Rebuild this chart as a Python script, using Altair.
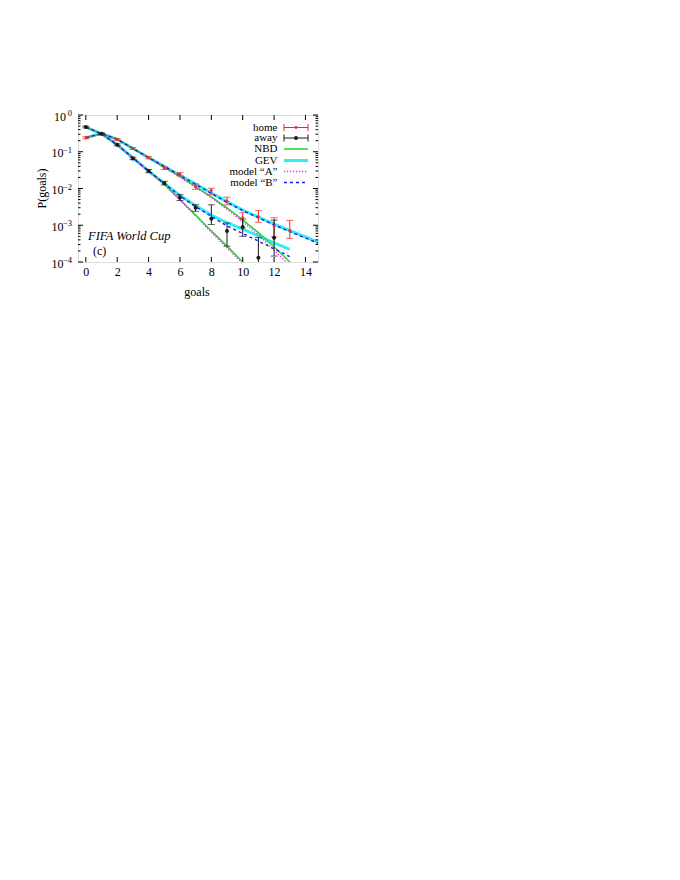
import altair as alt
import pandas as pd

# ---------------- data ----------------
home_x = list(range(14))
home_p = [0.24, 0.30, 0.216, 0.123, 0.069, 0.036, 0.0245, 0.0113, 0.0089, 0.0045, 0.0016, 0.0017, 0.00094, 0.00072]
home_lo = [0.225, 0.285, 0.205, 0.115, 0.064, 0.033, 0.0220, 0.0095, 0.0068, 0.0036, 0.00085, 0.0012, 0.00048, 0.00044]
home_hi = [0.255, 0.318, 0.228, 0.131, 0.074, 0.039, 0.0272, 0.0133, 0.0102, 0.0058, 0.0022, 0.0025, 0.0016, 0.00135]

away_x = list(range(13))
away_p = [0.47, 0.31, 0.155, 0.066, 0.030, 0.014, 0.0057, 0.0030, 0.0015, 0.0007, 0.0009, 0.00013, 0.00046]
away_lo = [0.445, 0.295, 0.146, 0.061, 0.027, 0.0125, 0.0047, 0.0024, 0.00105, 0.00027, 0.0005, 0.00005, 0.000145]
away_hi = [0.495, 0.325, 0.164, 0.071, 0.033, 0.0157, 0.0068, 0.0036, 0.0036, 0.00115, 0.00148, 0.00046, 0.00138]

curve_x_home = list(range(16))
home_gev = [0.24, 0.316, 0.219, 0.123, 0.069, 0.040, 0.023, 0.0132, 0.0076, 0.0044, 0.0026, 0.00166, 0.00107, 0.00071, 0.00048, 0.00032]
home_b = [0.24, 0.314, 0.219, 0.123, 0.069, 0.040, 0.0228, 0.0130, 0.0074, 0.0042, 0.0025, 0.0016, 0.00102, 0.00067, 0.00045, 0.00030]
home_nbd = [0.24, 0.309, 0.219, 0.123, 0.069, 0.038, 0.021, 0.0112, 0.0059, 0.00295, 0.00141, 0.00063, 0.00026, 0.0001, 0.000037, 0.000013]
home_a = [0.24, 0.305, 0.219, 0.124, 0.069, 0.038, 0.0205, 0.0108, 0.0056, 0.0027, 0.00125, 0.00054, 0.00021, 0.00008, 0.00003, 0.00001]

curve_x_away = list(range(14))
away_gev = [0.468, 0.309, 0.155, 0.068, 0.030, 0.0138, 0.0065, 0.0034, 0.0019, 0.00117, 0.00078, 0.00051, 0.00033, 0.00022]
away_b = [0.468, 0.309, 0.155, 0.068, 0.030, 0.0137, 0.0063, 0.0032, 0.00175, 0.00095, 0.0006, 0.00037, 0.00023, 0.00014]
away_nbd = [0.468, 0.309, 0.155, 0.068, 0.0295, 0.0132, 0.0050, 0.0019, 0.0007, 0.00027, 0.0001, 0.00004, 0.000015, 0.000005]
away_a = [0.468, 0.309, 0.155, 0.068, 0.0295, 0.0130, 0.0048, 0.0018, 0.00064, 0.00024, 0.00009, 0.00003, 0.00001, 0.000004]

x_tick_values = [0, 2, 4, 6, 8, 10, 12, 14]
y_major = [1.0, 0.1, 0.01, 0.001, 0.0001]
y_exponents = ["0", "\u22121", "\u22122", "\u22123", "\u22124"]
y_minor = [m * d for d in [1e-4, 1e-3, 1e-2, 1e-1] for m in range(2, 10)]

legend_labels = ["home", "away", "NBD", "GEV", "model \u201cA\u201d", "model \u201cB\u201d"]

# ---------------- frames ----------------
W, H = 240, 147
FONT = "Liberation Serif"

home_df = pd.DataFrame({"x": home_x, "p": home_p, "lo": home_lo, "hi": home_hi})
away_df = pd.DataFrame({"x": away_x, "p": away_p, "lo": away_lo, "hi": away_hi})

rows = []
for name, xs_, vals in [("GEV", curve_x_home, home_gev), ("B", curve_x_home, home_b),
                        ("NBD", curve_x_home, home_nbd), ("A", curve_x_home, home_a)]:
    for xv, pv in zip(xs_, vals):
        rows.append({"x": xv, "p": pv, "model": name, "team": "home"})
for name, xs_, vals in [("GEV", curve_x_away, away_gev), ("B", curve_x_away, away_b),
                        ("NBD", curve_x_away, away_nbd), ("A", curve_x_away, away_a)]:
    for xv, pv in zip(xs_, vals):
        rows.append({"x": xv, "p": pv, "model": name, "team": "away"})
curves = pd.DataFrame(rows)

xscale = alt.Scale(domain=[-0.5, 14.8], nice=False, zero=False)
yscale = alt.Scale(type="log", domain=[1e-4, 1], nice=False)
xaxis = alt.Axis(values=x_tick_values, ticks=False, domain=False, grid=False, title=None,
                 labelFont=FONT, labelFontSize=12, labelColor="black", labelPadding=4)

def X(field="x"):
    return alt.X(f"{field}:Q", scale=xscale, axis=xaxis)

def Y(field="p"):
    return alt.Y(f"{field}:Q", scale=yscale, axis=None)

def curve_layer(name, color, width, dash=None):
    kw = dict(color=color, strokeWidth=width, clip=True)
    if dash:
        kw["strokeDash"] = dash
    return alt.Chart(curves[curves.model == name]).mark_line(**kw).encode(
        x=X(), y=Y(), detail="team:N")

CYAN, GREEN, MAG, BLUE = "#30eef4", "#30d630", "#f020f0", "#1a1af0"
RED, BLACK = "#f02828", "#1a1a1a"
DOT, DASH = [1.2, 1.8], [3, 3]

layers = []
# curves
layers.append(curve_layer("GEV", CYAN, 3))
layers.append(curve_layer("NBD", GREEN, 1.6))
layers.append(curve_layer("A", MAG, 1.4, DOT))
layers.append(curve_layer("B", BLUE, 1.4, DASH))

# error bars
for df, col in [(home_df, RED), (away_df, BLACK)]:
    base = alt.Chart(df)
    layers.append(base.mark_rule(color=col, strokeWidth=1, clip=True).encode(x=X(), y=Y("lo"), y2="hi:Q"))
    layers.append(base.mark_tick(color=col, orient="horizontal", size=7, thickness=1, clip=True).encode(x=X(), y=Y("lo")))
    layers.append(base.mark_tick(color=col, orient="horizontal", size=7, thickness=1, clip=True).encode(x=X(), y=Y("hi")))
layers.append(alt.Chart(home_df).mark_circle(color=RED, size=8, opacity=1).encode(x=X(), y=Y()))
layers.append(alt.Chart(away_df).mark_circle(color=BLACK, size=16, opacity=1).encode(x=X(), y=Y()))

# inward ticks on all four sides
xt = pd.DataFrame({"x": x_tick_values})
layers.append(alt.Chart(xt).mark_rule(color="black", strokeWidth=1).encode(x=X(), y=alt.value(H), y2=alt.value(H - 5)))
layers.append(alt.Chart(xt).mark_rule(color="black", strokeWidth=1).encode(x=X(), y=alt.value(0), y2=alt.value(5)))
ymaj = pd.DataFrame({"p": y_major, "e": y_exponents})
ymin = pd.DataFrame({"p": y_minor})
for df, L in [(ymaj, 5), (ymin, 2.5)]:
    layers.append(alt.Chart(df).mark_rule(color="black", strokeWidth=1).encode(y=Y(), x=alt.value(0), x2=alt.value(L)))
    layers.append(alt.Chart(df).mark_rule(color="black", strokeWidth=1).encode(y=Y(), x=alt.value(W - L), x2=alt.value(W)))

# y tick labels 10^k
layers.append(alt.Chart(ymaj.iloc[:1]).mark_text(font=FONT, fontSize=12, align="right", baseline="middle", dy=1.5).encode(
    y=Y(), x=alt.value(-12), text=alt.value("10")))
layers.append(alt.Chart(ymaj.iloc[1:]).mark_text(font=FONT, fontSize=12, align="right", baseline="middle", dy=1.5).encode(
    y=Y(), x=alt.value(-14.5), text=alt.value("10")))
layers.append(alt.Chart(ymaj).mark_text(font=FONT, fontSize=8.5, align="right", baseline="middle", dy=-2).encode(
    y=Y(), x=alt.value(-6), text="e:N"))

# titles and annotations
one = pd.DataFrame({"a": [0]})
def txt(s, x, y, size=12, align="center", angle=0, style="normal"):
    kw = dict(font=FONT, fontSize=size, align=align, baseline="middle", fontStyle=style, color="black")
    if angle:
        kw["angle"] = angle
    return alt.Chart(one).mark_text(**kw).encode(x=alt.value(x), y=alt.value(y), text=alt.value(s))

layers.append(txt("goals", W / 2 - 1, 177))
layers.append(txt("P(goals)", -36, H / 2, angle=270))
layers.append(txt("FIFA  World  Cup", 10, 120.5, size=12.5, align="left", style="italic"))
layers.append(txt("(c)", 15, 136, size=12, align="left"))

# legend
LX_TEXT, LX0, LX1 = 199.5, 206, 230
ly = [12.5, 23, 34, 45.5, 56.5, 67.5]
styles = [("err", RED), ("err", BLACK), ("line", GREEN), ("line", CYAN), ("dot", MAG), ("dash", BLUE)]
for lab, yy, (kind, col) in zip(legend_labels, ly, styles):
    layers.append(txt(lab, LX_TEXT, yy, size=11, align="right"))
    if kind == "err":
        layers.append(alt.Chart(one).mark_rule(color=col, strokeWidth=1).encode(
            x=alt.value(LX0), x2=alt.value(LX1), y=alt.value(yy)))
        for xx in (LX0, LX1):
            layers.append(alt.Chart(one).mark_rule(color=col, strokeWidth=1).encode(
                x=alt.value(xx), y=alt.value(yy - 3.5), y2=alt.value(yy + 3.5)))
        layers.append(alt.Chart(one).mark_circle(color=col, size=16 if col == BLACK else 8, opacity=1).encode(
            x=alt.value((LX0 + LX1) / 2), y=alt.value(yy)))
    else:
        kw = dict(color=col, strokeWidth=3 if col == CYAN else 1.6)
        if kind == "dot":
            kw["strokeDash"] = DOT
        if kind == "dash":
            kw["strokeDash"] = DASH
        layers.append(alt.Chart(one).mark_rule(**kw).encode(
            x=alt.value(LX0), x2=alt.value(LX1), y=alt.value(yy)))

chart = alt.layer(*layers).properties(
    width=W, height=H,
    autosize=alt.AutoSizeParams(type="none"),
    padding={"left": 70, "top": 107, "right": 20, "bottom": 60},
).configure_view(stroke="black", strokeWidth=1).configure(background="white")

chart.save("out.html", embed_options={"renderer": "svg", "actions": False})
